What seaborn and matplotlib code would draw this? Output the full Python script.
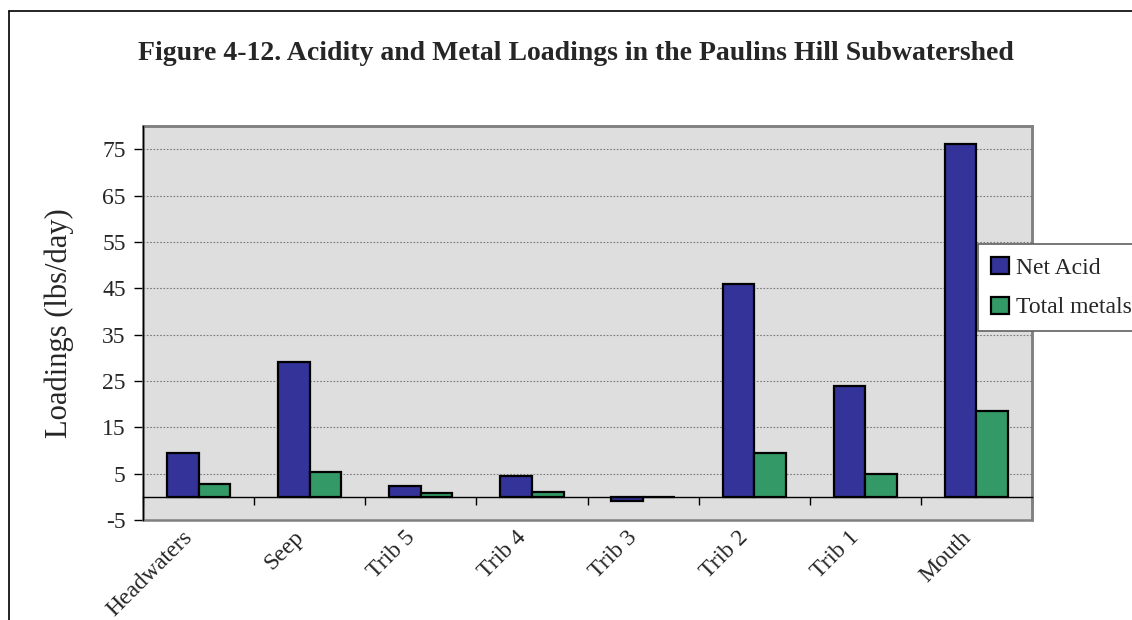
import numpy as np
import pandas as pd
import matplotlib
matplotlib.use("Agg")
import matplotlib.pyplot as plt
from matplotlib.lines import Line2D
from matplotlib.patches import Rectangle
from matplotlib.transforms import ScaledTranslation
import seaborn as sns

# Loadings per sampling site (lbs/day)
sites = ["Headwaters", "Seep", "Trib 5", "Trib 4", "Trib 3", "Trib 2", "Trib 1", "Mouth"]
net_acid = [9.4, 29.0, 2.4, 4.4, -1.0, 45.9, 23.9, 76.1]
total_metals = [2.8, 5.3, 0.8, 1.0, 0.0, 9.5, 4.9, 18.5]
series_names = ["Net Acid", "Total metals"]
series_colors = ["#333399", "#339966"]
y_ticks = list(range(-5, 80, 10))

df = pd.DataFrame({
    "site": sites * 2,
    "series": [series_names[0]] * len(sites) + [series_names[1]] * len(sites),
    "load": net_acid + total_metals,
})

sns.set_theme(style="white")
plt.rcParams["font.family"] = ["Liberation Serif", "DejaVu Serif"]

fig = plt.figure(figsize=(11.32, 6.2), dpi=100)
ax = fig.add_axes([143 / 1132, 1 - 520 / 620, (1032 - 143) / 1132, (520 - 126) / 620])
ax.set_facecolor("#dedede")

sns.barplot(data=df, x="site", y="load", hue="series", order=sites,
            hue_order=series_names, palette=series_colors, width=0.57,
            edgecolor="black", linewidth=1.6, saturation=1, errorbar=None,
            legend=False, ax=ax, zorder=3)

n = len(sites)
ax.set_xlim(-0.5, n - 0.5)
ax.set_ylim(-5, 80)
ax.set_yticks(y_ticks)
ax.set_yticklabels([str(v) for v in y_ticks])
ax.yaxis.grid(True, linestyle=(0, (1.5, 1.5)), color="#7a7a7a", linewidth=0.8, zorder=0)
ax.xaxis.grid(False)

# category axis sits on the zero line; tick marks at category boundaries
ax.spines["bottom"].set_position(("data", 0))
ax.spines["bottom"].set_color("black")
ax.spines["bottom"].set_linewidth(1.0)
ax.spines["bottom"].set_zorder(4)
ax.set_xticks(np.arange(n + 1) - 0.5, labels=[""] * (n + 1))
ax.set_xticks(np.arange(n), labels=sites, minor=True)
ax.tick_params(axis="x", which="major", direction="out", length=6, width=1, color="black", bottom=True)
ax.tick_params(axis="x", which="minor", length=0, pad=27, labelsize=17)
shift_left = ScaledTranslation(-9 / 100, 0, fig.dpi_scale_trans)
for lab in ax.get_xticklabels(minor=True):
    lab.set_rotation(45)
    lab.set_rotation_mode("anchor")
    lab.set_ha("right")
    lab.set_va("center")
    lab.set_transform(lab.get_transform() + shift_left)

ax.tick_params(axis="y", direction="out", length=6.5, width=1, color="black", left=True, labelsize=17, pad=6)
ax.spines["left"].set_color("black")
ax.spines["left"].set_linewidth(1.0)
ax.spines["left"].set_zorder(5)
for side in ("top", "right"):
    ax.spines[side].set_color("#808080")
    ax.spines[side].set_linewidth(1.8)
ax.add_patch(Rectangle((0, 0), 1, 1, transform=ax.transAxes, fill=False,
                       edgecolor="#808080", linewidth=1.8, clip_on=False, zorder=4))

ax.set_xlabel("")
ax.set_ylabel("Loadings (lbs/day)", fontsize=22, labelpad=20)

fig.text(0.509, 1 - 53 / 620, "Figure 4-12. Acidity and Metal Loadings in the Paulins Hill Subwatershed",
         ha="center", va="center", fontsize=20, fontweight="bold")

handles = [Rectangle((0, 0), 1, 1, facecolor=c, edgecolor="black", linewidth=1.6) for c in series_colors]
leg = fig.legend(handles, series_names, loc="upper left",
                 bbox_to_anchor=(978 / 1132, 1 - 244 / 620), borderaxespad=0, fontsize=17,
                 frameon=True, fancybox=False, framealpha=1, edgecolor="#606060",
                 handlelength=0.75, handleheight=0.75, handletextpad=0.3,
                 labelspacing=0.75, borderpad=0.55)
leg.get_frame().set_linewidth(1.2)

# outer chart frame
fig.add_artist(Line2D([9 / 1132, 9 / 1132], [0, 1 - 11 / 620], color="black", linewidth=1.2))
fig.add_artist(Line2D([9 / 1132, 1], [1 - 11 / 620, 1 - 11 / 620], color="black", linewidth=1.2))

fig.savefig("out.png", dpi=100, facecolor="white")
